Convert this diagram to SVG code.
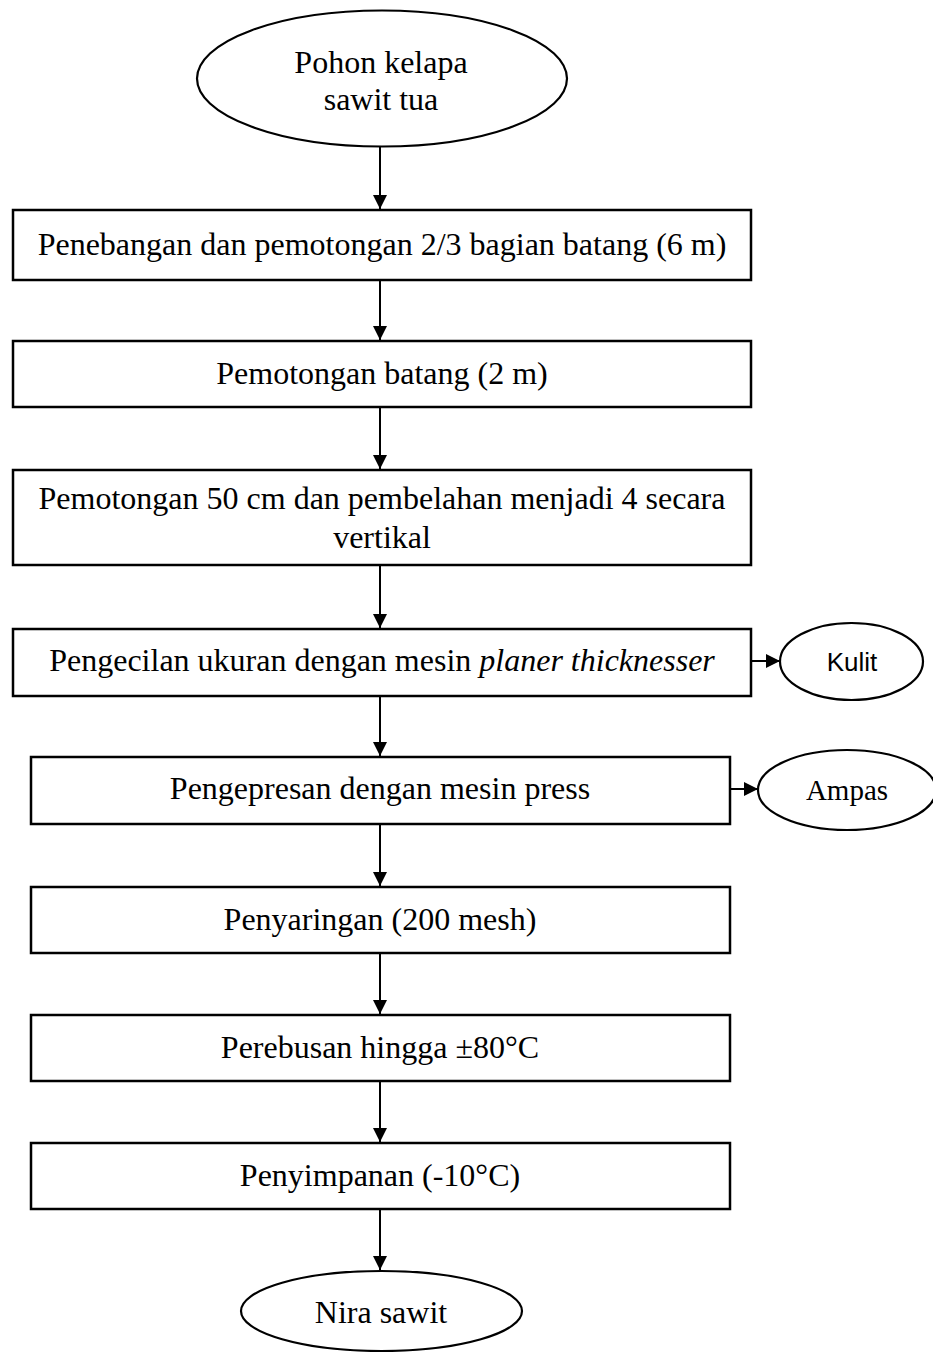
<svg xmlns="http://www.w3.org/2000/svg" width="933" height="1352" viewBox="0 0 933 1352">
<style>
.box{fill:#fff;stroke:#000;stroke-width:2.5}
.ell{fill:#fff;stroke:#000;stroke-width:2.2}
.t{font-family:"Liberation Serif","Times New Roman",serif;font-size:32px;fill:#000;text-anchor:middle}
.s{font-family:"Liberation Sans",Arial,sans-serif;font-size:26px;fill:#000;text-anchor:middle}
.c{stroke:#000;stroke-width:2;fill:none;marker-end:url(#ah)}
</style>
<defs>
<marker id="ah" markerUnits="userSpaceOnUse" markerWidth="16" markerHeight="16" viewBox="0 0 16 16" refX="15" refY="8" orient="auto">
<path d="M1,1 L15,8 L1,15 Z" fill="#000"/>
</marker>
</defs>
<rect width="933" height="1352" fill="#fff"/>
<g id="connectors">
<line class="c" x1="380" y1="147" x2="380" y2="209"/>
<line class="c" x1="380" y1="280" x2="380" y2="340"/>
<line class="c" x1="380" y1="407" x2="380" y2="469"/>
<line class="c" x1="380" y1="565" x2="380" y2="628"/>
<line class="c" x1="380" y1="696" x2="380" y2="756"/>
<line class="c" x1="380" y1="824" x2="380" y2="886"/>
<line class="c" x1="380" y1="953" x2="380" y2="1014"/>
<line class="c" x1="380" y1="1081" x2="380" y2="1142"/>
<line class="c" x1="380" y1="1209" x2="380" y2="1270"/>
<line class="c" x1="751" y1="661" x2="780" y2="661"/>
<line class="c" x1="730" y1="789" x2="758" y2="789"/>
</g>
<g id="n0">
<ellipse class="ell" cx="382" cy="78.5" rx="185" ry="68"/>
<text class="t" x="381" y="73">Pohon kelapa</text>
<text class="t" x="381" y="110">sawit tua</text>
</g>
<g id="n1">
<rect class="box" x="13" y="210" width="738" height="70"/>
<text class="t" x="382" y="255">Penebangan dan pemotongan 2/3 bagian batang (6 m)</text>
</g>
<g id="n2">
<rect class="box" x="13" y="341" width="738" height="66"/>
<text class="t" x="382" y="384">Pemotongan batang (2 m)</text>
</g>
<g id="n3">
<rect class="box" x="13" y="470" width="738" height="95"/>
<text class="t" x="382" y="509">Pemotongan 50 cm dan pembelahan menjadi 4 secara</text>
<text class="t" x="382" y="548">vertikal</text>
</g>
<g id="n4">
<rect class="box" x="13" y="629" width="738" height="67"/>
<text class="t" x="382" y="671">Pengecilan ukuran dengan mesin <tspan font-style="italic">planer thicknesser</tspan></text>
</g>
<g id="n5">
<ellipse class="ell" cx="851.5" cy="661.5" rx="71.5" ry="38.5"/>
<text class="s" x="852" y="671">Kulit</text>
</g>
<g id="n6">
<rect class="box" x="31" y="757" width="699" height="67"/>
<text class="t" x="380" y="799">Pengepresan dengan mesin press</text>
</g>
<g id="n7">
<ellipse class="ell" cx="847" cy="790" rx="89" ry="40"/>
<text class="t" x="847" y="800" style="font-size:29px">Ampas</text>
</g>
<g id="n8">
<rect class="box" x="31" y="887" width="699" height="66"/>
<text class="t" x="380" y="930">Penyaringan (200 mesh)</text>
</g>
<g id="n9">
<rect class="box" x="31" y="1015" width="699" height="66"/>
<text class="t" x="380" y="1058">Perebusan hingga ±80°C</text>
</g>
<g id="n10">
<rect class="box" x="31" y="1143" width="699" height="66"/>
<text class="t" x="380" y="1186">Penyimpanan (-10°C)</text>
</g>
<g id="n11">
<ellipse class="ell" cx="381.5" cy="1311" rx="140.5" ry="40"/>
<text class="t" x="381" y="1323">Nira sawit</text>
</g>
</svg>
